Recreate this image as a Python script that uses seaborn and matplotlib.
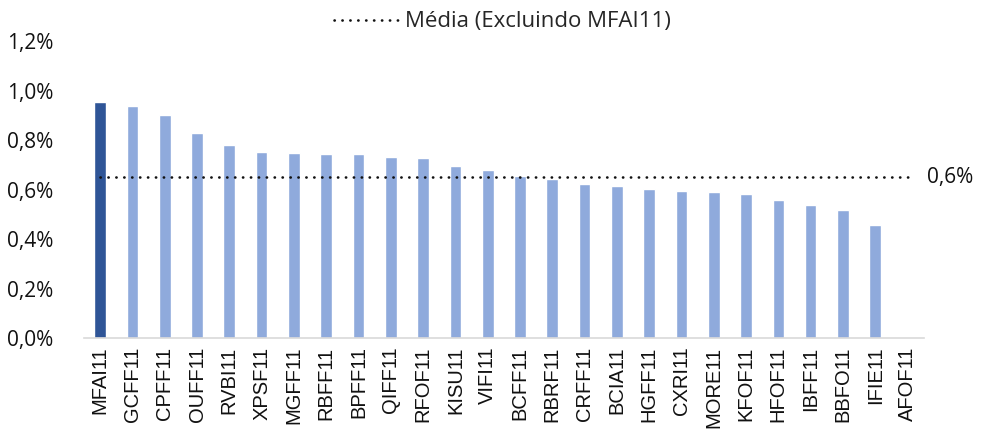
import numpy as np
import pandas as pd
import matplotlib
matplotlib.use('Agg')
import matplotlib.pyplot as plt
import matplotlib.transforms as mtransforms
from matplotlib.lines import Line2D
import seaborn as sns

# dados (%)
fundos = ['MFAI11', 'GCFF11', 'CPFF11', 'OUFF11', 'RVBI11', 'XPSF11', 'MGFF11',
          'RBFF11', 'BPFF11', 'QIFF11', 'RFOF11', 'KISU11', 'VIFI11', 'BCFF11',
          'RBRF11', 'CRFF11', 'BCIA11', 'HGFF11', 'CXRI11', 'MORE11', 'KFOF11',
          'HFOF11', 'IBFF11', 'BBFO11', 'IFIE11', 'AFOF11']
valores = [0.956, 0.940, 0.903, 0.829, 0.780, 0.754, 0.746,
           0.744, 0.742, 0.731, 0.729, 0.695, 0.681, 0.656,
           0.642, 0.621, 0.613, 0.601, 0.594, 0.589, 0.582,
           0.559, 0.538, 0.517, 0.457, 0.0]
media = 0.649  # média excluindo MFAI11
yticks = [0.0, 0.2, 0.4, 0.6, 0.8, 1.0, 1.2]

cor_destaque = '#2F5597'
cor_barra = '#8FAADC'

sns.set_style('white')
fonte_num = ['Open Sans', 'DejaVu Sans']
fonte_rot = ['Liberation Sans', 'DejaVu Sans']
pontilhado = (0, (0.1, 2.9))

df = pd.DataFrame({'fundo': fundos, 'valor': valores})
paleta = {f: (cor_destaque if f == 'MFAI11' else cor_barra) for f in fundos}

fig = plt.figure(figsize=(9.81, 4.29), dpi=100)
ax = fig.add_axes([0.0856, 0.212, 0.856, 0.692])

sns.barplot(data=df, x='fundo', y='valor', hue='fundo', palette=paleta,
            order=fundos, hue_order=fundos, width=0.36, legend=False,
            saturation=1, ax=ax)

# linha da média
ax.plot(np.arange(len(fundos)), [media] * len(fundos), color='#111111',
        linestyle=pontilhado, linewidth=1.9, dash_capstyle='round')

trans = mtransforms.blended_transform_factory(ax.transAxes, ax.transData)
ax.text(1.004, media, f'{media:.1f}%'.replace('.', ','), transform=trans,
        ha='left', va='center', fontsize=15, family=fonte_num, color='#111111')

ax.set_ylim(0, 1.2)
ax.set_xlim(-0.5, len(fundos) - 0.5)
ax.set_yticks(yticks)
ax.set_yticklabels([f'{v:.1f}%'.replace('.', ',') for v in yticks],
                   fontsize=15, family=fonte_num, color='#111111')
ax.set_xticks(range(len(fundos)))
ax.set_xticklabels(fundos, rotation=90, fontsize=14.5, family=fonte_rot,
                   color='#111111')
ax.tick_params(axis='both', length=0, pad=6)
ax.tick_params(axis='y', pad=22)
ax.set_xlabel('')
ax.set_ylabel('')

for s in ['top', 'right', 'left']:
    ax.spines[s].set_visible(False)
ax.spines['bottom'].set_color('#D9D9D9')
ax.spines['bottom'].set_linewidth(1.2)

handle = Line2D([], [], color='#111111', linestyle=pontilhado,
                linewidth=1.9, dash_capstyle='round')
leg = fig.legend([handle], ['Média (Excluindo MFAI11)'], loc='upper center',
                 bbox_to_anchor=(0.512, 1.02), frameon=False, handlelength=2.9,
                 handletextpad=0.3, prop={'family': fonte_num, 'size': 16})

fig.savefig('out.png', dpi=100)
